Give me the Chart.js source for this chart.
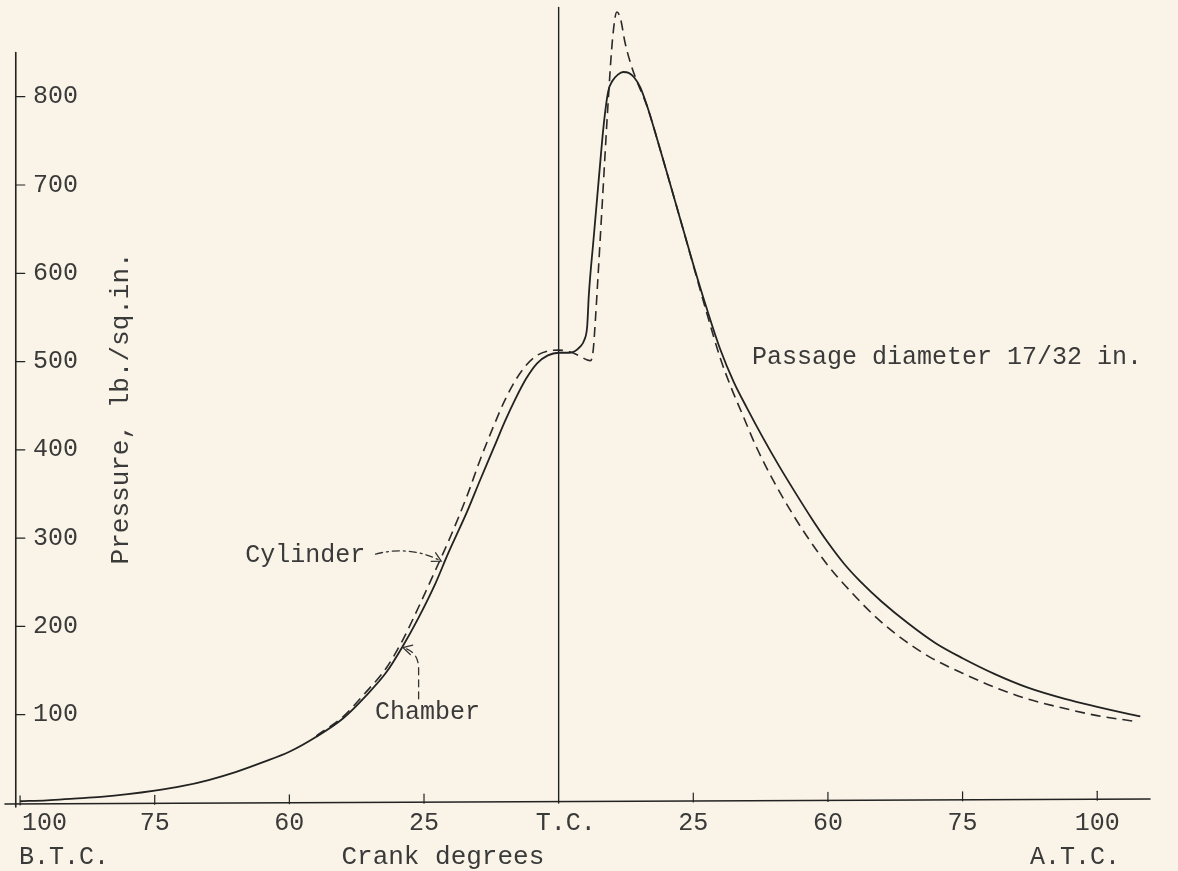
<!DOCTYPE html>
<html>
<head>
<meta charset="utf-8">
<script src="https://cdn.jsdelivr.net/npm/chart.js@4/dist/chart.umd.min.js"></script>
<style>
  html, body { margin: 0; padding: 0; background: #f9f4e7; }
  canvas { display: block; }
</style>
</head>
<body>
<canvas id="c" width="1178" height="871"></canvas>
<script>
// ---------- data ----------
const chamberDeg = [-100,-95,-90,-85,-80,-75,-70,-65,-60,-55,-50,-45,-40,-36,-32,-29,-26,-23,-20.5,-17,-14.5,-12,-10,-8,-6,-4,-2,0,2,4,4.8,5.3,5.6,6.5,7.5,8.4,9.2,10,11,12,13,14,15.2,16.5,18,20,22.5,25,27.5,30,32.5,35,38,41,44,47,50,53,56,60,65,70,75,81,87,94,100,108];
const chamberPsi = [2,3,5,7,10,14,19,26,35,46,58,75,96,120,148,177,210,247,283,330,367,403,432,458,481,498,507,510,510,517,525,540,575,640,710,770,806,818,825,828,827,822,810,788,758,716,663,610,560,514,477,447,413,381,351,322,295,271,251,228,203,181,164,146,131,118,109,98];

const cylinderDeg = [-45,-40,-36,-32,-29,-26,-23,-20,-17,-14.5,-12,-10,-8,-6,-4,-2,0,2,4,5.2,5.9,6.4,6.8,7.2,8.2,9.2,10,10.8,11.5,12.3,13.5,14.5,16.5,18,20,22.5,25,27.5,30,32,34,36.5,39,42,46,50,54,59,64,69,75,81,87,94,100,107.5];
const cylinderPsi = [76,98,124,153,184,222,262,303,348,390,428,456,479,496,507,512,513,511,506,502,501,512,545,585,690,795,865,896,888,862,835,818,788,758,716,663,609,555,504,471,442,406,375,342,303,269,241,210,185,165,147,131,118,107,99,92];

const xTickValues = [-100,-75,-50,-25,0,25,50,75,100];
const xTickLabels = ['100','75','60','25','T.C.','25','60','75','100'];
const yTickValues = [100,200,300,400,500,600,700,800];
const yTickLabels = ['100','200','300','400','500','600','700','800'];

// ---------- styling ----------
const INK = '#222222';
const TEXT = '#3a3a3a';
const FONT = '"Liberation Mono", "DejaVu Sans Mono", monospace';

// annotation anchors in data units (deg, psi)
const notes = {
  yTitle:   { x: -81.2, y: 447, text: 'Pressure, lb./sq.in.' },
  passage:  { x: 35.9,  y: 505, text: 'Passage diameter 17/32 in.' },
  cylinder: { x: -58.2, y: 281, text: 'Cylinder' },
  chamber:  { x: -34.1, y: 103, text: 'Chamber' },
  xTitle:   { x: -21.5, y: -61, text: 'Crank degrees' },
  btc:      { x: -100.2, y: -62, text: 'B.T.C.' },
  atc:      { x: 87.5,  y: -62, text: 'A.T.C.' }
};
const cylArrow = { from: [-34.0, 282], ctrl: [-27.5, 292], to: [-21.8, 274] };
const chamArrow = { from: [-26.0, 118], mid: [-26.0, 152], to: [-28.9, 176] };
const yAxisAt = -100.8, yAxisTop = 850, tcTop = 901;

const decor = {
  id: 'decor',
  beforeDraw(chart) {
    const c = chart.ctx;
    c.save();
    c.fillStyle = '#f9f4e7';
    c.fillRect(0, 0, chart.width, chart.height);
    c.restore();
    // first x label ("100" B.T.C.) starts at the axis instead of being centred on it
    const xs = chart.scales.x;
    const items = xs.getLabelItems(chart.chartArea);
    if (items.length) {
      items[0].options.textAlign = 'left';
      items[0].options.translation[0] = xs.getPixelForValue(xTickValues[0]) + 2;
      const tc = items[xTickValues.indexOf(0)];
      if (tc) tc.options.translation[0] = xs.getPixelForValue(0) + 7;
    }
  },
  afterDatasetsDraw(chart) {
    const c = chart.ctx, xs = chart.scales.x, ys = chart.scales.y, ca = chart.chartArea;
    const px = v => xs.getPixelForValue(v), py = v => ys.getPixelForValue(v);
    const y0 = py(0);
    c.save();
    c.strokeStyle = INK;
    c.lineCap = 'round';
    // x axis line
    c.lineWidth = 1.6;
    c.beginPath(); c.moveTo(ca.left, y0 + 1); c.lineTo(ca.right, y0 - 4); c.stroke();
    // y axis line
    const ax = px(yAxisAt);
    c.beginPath(); c.moveTo(ax, y0 + 4); c.lineTo(ax, py(yAxisTop)); c.stroke();
    // T.C. line
    c.lineWidth = 1.4;
    c.beginPath(); c.moveTo(px(0), y0); c.lineTo(px(0), py(tcTop)); c.stroke();
    // x tick marks
    c.lineWidth = 1.2;
    xTickValues.forEach(v => {
      if (v === 0) return;
      const x = px(v), yy = y0 + 1 - 5 * (x - ca.left) / (ca.right - ca.left);
      c.beginPath(); c.moveTo(x, yy - 8); c.lineTo(x, yy + 1); c.stroke();
    });
    // y tick marks
    yTickValues.forEach(v => {
      c.beginPath(); c.moveTo(ax, py(v)); c.lineTo(ax + 9, py(v)); c.stroke();
    });

    // texts
    c.fillStyle = TEXT;
    c.textBaseline = 'middle';
    c.font = '25px ' + FONT;
    c.textAlign = 'left';
    ['passage', 'cylinder', 'chamber', 'btc', 'atc'].forEach(k => {
      const n = notes[k];
      c.fillText(n.text, px(n.x), py(n.y));
    });
    c.textAlign = 'center';
    c.font = '26px ' + FONT;
    c.fillText(notes.xTitle.text, px(notes.xTitle.x), py(notes.xTitle.y));
    // rotated y title
    c.save();
    c.translate(px(notes.yTitle.x), py(notes.yTitle.y));
    c.rotate(-Math.PI / 2);
    c.fillText(notes.yTitle.text, 0, 0);
    c.restore();

    // cylinder arrow (dash-dot)
    c.lineWidth = 1.3;
    c.strokeStyle = '#333';
    c.setLineDash([7, 4, 2, 4]);
    const a0 = [px(cylArrow.from[0]), py(cylArrow.from[1])];
    const a1 = [px(cylArrow.ctrl[0]), py(cylArrow.ctrl[1])];
    const a2 = [px(cylArrow.to[0]), py(cylArrow.to[1])];
    c.beginPath(); c.moveTo(a0[0], a0[1]); c.quadraticCurveTo(a1[0], a1[1], a2[0], a2[1]); c.stroke();
    c.setLineDash([]);
    arrowHead(c, a1, a2);

    // chamber arrow (dashed)
    c.setLineDash([7, 5]);
    const b0 = [px(chamArrow.from[0]), py(chamArrow.from[1])];
    const b1 = [px(chamArrow.mid[0]), py(chamArrow.mid[1])];
    const b2 = [px(chamArrow.to[0]), py(chamArrow.to[1])];
    c.beginPath(); c.moveTo(b0[0], b0[1]); c.lineTo(b1[0], b1[1]);
    c.quadraticCurveTo(b1[0], b2[1] + 4, b2[0], b2[1]); c.stroke();
    c.setLineDash([]);
    arrowHead(c, [b1[0], b2[1] + 4], b2);
    c.restore();
  }
};

function arrowHead(c, from, to) {
  const ang = Math.atan2(to[1] - from[1], to[0] - from[0]);
  const L = 10, spread = 0.5;
  c.beginPath();
  c.moveTo(to[0] - L * Math.cos(ang - spread), to[1] - L * Math.sin(ang - spread));
  c.lineTo(to[0], to[1]);
  c.lineTo(to[0] - L * Math.cos(ang + spread), to[1] - L * Math.sin(ang + spread));
  c.stroke();
}

const toPoints = (xs, ys) => xs.map((x, i) => ({ x: x, y: ys[i] }));

new Chart(document.getElementById('c').getContext('2d'), {
  type: 'line',
  data: {
    datasets: [
      {
        label: 'Chamber',
        data: toPoints(chamberDeg, chamberPsi),
        borderColor: INK, borderWidth: 1.8,
        pointRadius: 0, fill: false,
        cubicInterpolationMode: 'monotone'
      },
      {
        label: 'Cylinder',
        data: toPoints(cylinderDeg, cylinderPsi),
        borderColor: '#2a2a2a', borderWidth: 1.6,
        borderDash: [10, 6],
        pointRadius: 0, fill: false,
        cubicInterpolationMode: 'monotone'
      }
    ]
  },
  options: {
    responsive: false,
    animation: false,
    layout: { padding: { left: 5, right: 28, top: 4, bottom: 0 } },
    plugins: { legend: { display: false }, tooltip: { enabled: false } },
    scales: {
      x: {
        type: 'linear', min: -102.8, max: 109.8,
        grid: { display: false, drawTicks: false },
        border: { display: false },
        afterBuildTicks: s => { s.ticks = xTickValues.map(v => ({ value: v })); },
        afterFit: s => { s.paddingLeft = 0; s.paddingRight = 0; s.height = 68; },
        ticks: {
          autoSkip: false, maxRotation: 0, padding: 5,
          color: TEXT, font: { family: FONT, size: 25 },
          callback: v => xTickLabels[xTickValues.indexOf(v)]
        }
      },
      y: {
        type: 'linear', min: 0, max: 905,
        grid: { display: false, drawTicks: false },
        border: { display: false },
        afterBuildTicks: s => { s.ticks = yTickValues.map(v => ({ value: v })); },
        afterFit: s => { s.width = 0; s.paddingTop = 0; s.paddingBottom = 0; },
        ticks: {
          mirror: true, padding: 28,
          color: TEXT, font: { family: FONT, size: 25 },
          callback: v => yTickLabels[yTickValues.indexOf(v)]
        }
      }
    }
  },
  plugins: [decor]
});
</script>
</body>
</html>
